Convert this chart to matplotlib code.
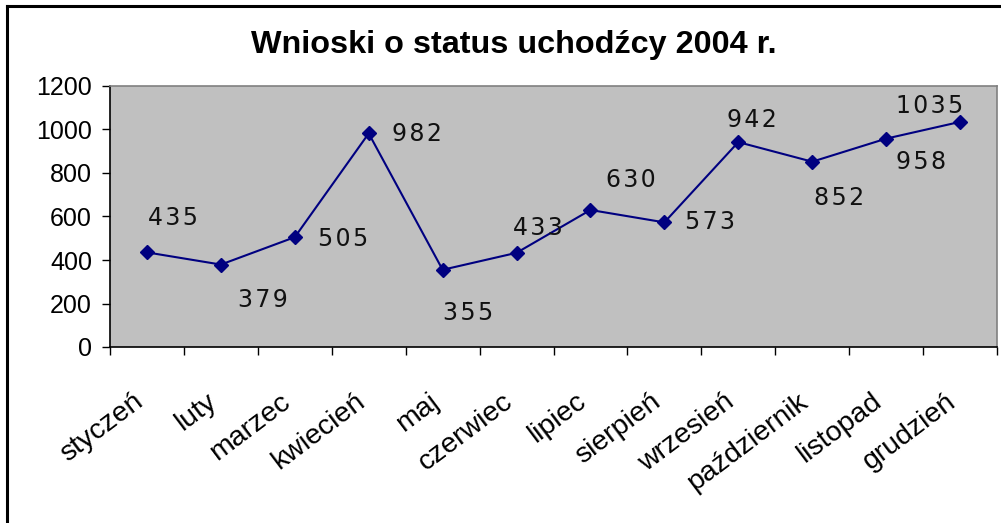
import matplotlib
matplotlib.use("Agg")
import matplotlib.pyplot as plt
from matplotlib.lines import Line2D
from matplotlib.transforms import blended_transform_factory, ScaledTranslation

months = ["styczeń", "luty", "marzec", "kwiecień", "maj", "czerwiec",
          "lipiec", "sierpień", "wrzesień", "październik", "listopad", "grudzień"]
values = [435, 379, 505, 982, 355, 433, 630, 573, 942, 852, 958, 1035]
yticks = [0, 200, 400, 600, 800, 1000, 1200]
title = "Wnioski o status uchodźcy 2004 r."

# label offsets in pixels (dx, dy) relative to the data point
label_offsets = [(26, 34), (42, -35), (48, -2), (48, -1), (26, -43), (21, 25),
                 (40, 30), (46, 0), (14, 22), (27, -36), (35, -23), (-30, 16)]

W, H = 1001, 523
dpi = 100
fig = plt.figure(figsize=(W / dpi, H / dpi), dpi=dpi)
fig.patch.set_facecolor("white")

# outer frame (top and left visible)
fig.add_artist(Line2D([7 / W, 7 / W], [0, 1 - 6 / H], color="black", lw=2.2,
                      transform=fig.transFigure))
fig.add_artist(Line2D([7 / W, 1], [1 - 6 / H, 1 - 6 / H], color="black", lw=2.2,
                      transform=fig.transFigure))

left, right, top, bottom = 110, 997, 86, 347
ax = fig.add_axes([left / W, 1 - bottom / H, (right - left) / W, (bottom - top) / H])
ax.set_facecolor("#C0C0C0")

x = list(range(len(months)))
ax.plot(x, values, color="#000080", lw=1.5, marker="D", markersize=7,
        markerfacecolor="#000080", markeredgecolor="#000080", zorder=3)

ax.set_xlim(-0.5, len(months) - 0.5)
ax.set_ylim(0, 1200)
ax.set_yticks(yticks)
ax.set_yticklabels([str(t) for t in yticks], fontsize=18, family="Liberation Sans")
ax.set_xticks([i - 0.5 for i in range(len(months) + 1)])
ax.set_xticklabels([])
ax.tick_params(axis="x", which="major", length=6, width=1, direction="out", color="black")
ax.tick_params(axis="y", length=6, width=1, direction="out", pad=7)

# category labels, rotated
trans = blended_transform_factory(ax.transData, ax.transAxes) + \
    ScaledTranslation(-7 / dpi, -52 / dpi, fig.dpi_scale_trans)
for i, m in enumerate(months):
    ax.text(i, 0, m, transform=trans, rotation=37, rotation_mode="anchor",
            ha="right", va="center", fontsize=20.5, family="Liberation Sans",
            clip_on=False)

for s in ["top", "right"]:
    ax.spines[s].set_color("#808080")
    ax.spines[s].set_linewidth(1.2)
for s in ["left", "bottom"]:
    ax.spines[s].set_color("black")
    ax.spines[s].set_linewidth(1.2)

for i, (v, (dx, dy)) in enumerate(zip(values, label_offsets)):
    ax.annotate("\u200a".join(str(v)), (i, v), xytext=(dx * 72 / dpi, dy * 72 / dpi),
                textcoords="offset points", ha="center", va="center",
                fontsize=17, family="DejaVu Sans", color="#111111")

fig.text(514 / W, 1 - 45 / H, title, ha="center", va="center", fontsize=23.3,
         fontweight="bold", family="Liberation Sans")

fig.savefig("out.png", dpi=dpi)
